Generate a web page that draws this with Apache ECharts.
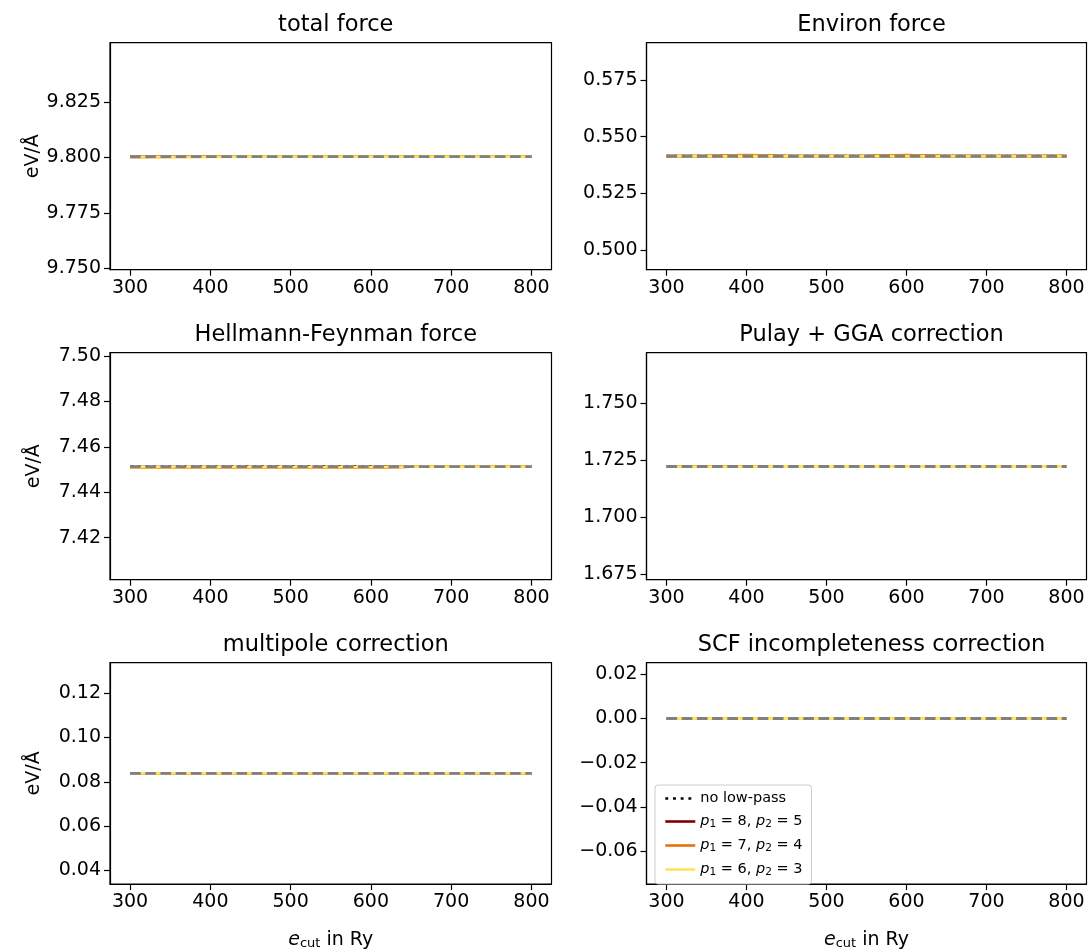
<!DOCTYPE html>
<html>
<head>
<meta charset="utf-8">
<script src="https://cdn.jsdelivr.net/npm/echarts@6/dist/echarts.min.js"></script>
<style>
  html, body { margin: 0; padding: 0; background: #fff; }
  #chart { width: 1091px; height: 951px; }
</style>
</head>
<body>
<div id="chart"></div>
<script>
// cutoff values (Ry)
var ecut = [300, 350, 400, 450, 500, 550, 600, 650, 700, 750, 800];

var seriesNames = ['no low-pass', 'p1 = 8, p2 = 5', 'p1 = 7, p2 = 4', 'p1 = 6, p2 = 3'];
var seriesColors = ['#000000', '#800000', '#e8700c', '#ffe35a'];

var titles = ['total force', 'Environ force', 'Hellmann-Feynman force',
              'Pulay + GGA correction', 'multipole correction', 'SCF incompleteness correction'];

// values (eV/Å), one list per curve
var totalNoLp  = [9.8003, 9.8003, 9.8003, 9.8003, 9.8003, 9.8003, 9.8003, 9.8003, 9.8003, 9.8003, 9.8003];
var totalP85   = [9.8002, 9.8003, 9.8003, 9.8003, 9.8003, 9.8003, 9.8003, 9.8003, 9.8003, 9.8003, 9.8003];
var totalP74   = [9.8002, 9.8002, 9.8003, 9.8003, 9.8003, 9.8003, 9.8003, 9.8003, 9.8003, 9.8003, 9.8003];
var totalP63   = [9.8002, 9.8002, 9.8002, 9.8003, 9.8003, 9.8003, 9.8003, 9.8003, 9.8003, 9.8003, 9.8003];

var environNoLp = [0.5414, 0.5414, 0.5414, 0.5414, 0.5414, 0.5414, 0.5414, 0.5414, 0.5414, 0.5414, 0.5414];
var environP85  = [0.5414, 0.5414, 0.5417, 0.5414, 0.5414, 0.5414, 0.5417, 0.5414, 0.5414, 0.5414, 0.5414];
var environP74  = [0.5414, 0.5415, 0.5418, 0.5415, 0.5414, 0.5415, 0.5418, 0.5414, 0.5414, 0.5414, 0.5414];
var environP63  = [0.5414, 0.5414, 0.5414, 0.5414, 0.5414, 0.5414, 0.5414, 0.5414, 0.5414, 0.5414, 0.5414];

var hfNoLp = [7.4513, 7.4513, 7.4513, 7.4513, 7.4513, 7.4513, 7.4513, 7.4513, 7.4513, 7.4513, 7.4513];
var hfP85  = [7.4511, 7.4511, 7.4511, 7.4511, 7.4511, 7.4511, 7.4511, 7.4513, 7.4513, 7.4513, 7.4513];
var hfP74  = [7.4509, 7.4509, 7.4509, 7.4509, 7.4509, 7.4509, 7.4509, 7.4513, 7.4513, 7.4513, 7.4513];
var hfP63  = [7.4511, 7.4511, 7.4511, 7.4511, 7.4511, 7.4511, 7.4511, 7.4513, 7.4513, 7.4513, 7.4513];

var pulayNoLp = [1.7223, 1.7223, 1.7223, 1.7223, 1.7223, 1.7223, 1.7223, 1.7223, 1.7223, 1.7223, 1.7223];
var pulayP85  = [1.7223, 1.7223, 1.7223, 1.7223, 1.7223, 1.7223, 1.7223, 1.7223, 1.7223, 1.7223, 1.7223];
var pulayP74  = [1.7222, 1.7222, 1.7223, 1.7223, 1.7223, 1.7223, 1.7223, 1.7223, 1.7223, 1.7223, 1.7223];
var pulayP63  = [1.7222, 1.7222, 1.7222, 1.7223, 1.7223, 1.7223, 1.7223, 1.7223, 1.7223, 1.7223, 1.7223];

var multiNoLp = [0.0838, 0.0838, 0.0838, 0.0838, 0.0838, 0.0838, 0.0838, 0.0838, 0.0838, 0.0838, 0.0838];
var multiP85  = [0.0838, 0.0838, 0.0838, 0.0838, 0.0838, 0.0838, 0.0838, 0.0838, 0.0838, 0.0838, 0.0838];
var multiP74  = [0.0838, 0.0838, 0.0838, 0.0838, 0.0838, 0.0838, 0.0838, 0.0838, 0.0838, 0.0838, 0.0838];
var multiP63  = [0.0838, 0.0838, 0.0838, 0.0838, 0.0838, 0.0838, 0.0838, 0.0838, 0.0838, 0.0838, 0.0838];

var scfNoLp = [0, 0, 0, 0, 0, 0, 0, 0, 0, 0, 0];
var scfP85  = [0, 0, 0, 0, 0, 0, 0, 0, 0, 0, 0];
var scfP74  = [0, 0, 0, 0, 0, 0, 0, 0, 0, 0, 0];
var scfP63  = [0, 0, 0, 0, 0, 0, 0, 0, 0, 0, 0];

// y tick labels per panel
var totalTicks   = [9.750, 9.775, 9.800, 9.825];
var environTicks = [0.500, 0.525, 0.550, 0.575];
var hfTicks      = [7.42, 7.44, 7.46, 7.48, 7.50];
var pulayTicks   = [1.675, 1.700, 1.725, 1.750];
var multiTicks   = [0.04, 0.06, 0.08, 0.10, 0.12];
var scfTicks     = [-0.06, -0.04, -0.02, 0.00, 0.02];
var xTicks       = [300, 400, 500, 600, 700, 800];

var panels = [
    {curves: [totalNoLp, totalP85, totalP74, totalP63], ticks: totalTicks, min: 9.7494, max: 9.8516, dec: 3},
    {curves: [environNoLp, environP85, environP74, environP63], ticks: environTicks, min: 0.4914, max: 0.5914, dec: 3},
    {curves: [hfNoLp, hfP85, hfP74, hfP63], ticks: hfTicks, min: 7.4015, max: 7.5015, dec: 2},
    {curves: [pulayNoLp, pulayP85, pulayP74, pulayP63], ticks: pulayTicks, min: 1.6724, max: 1.7724, dec: 3},
    {curves: [multiNoLp, multiP85, multiP74, multiP63], ticks: multiTicks, min: 0.0338, max: 0.1338, dec: 2},
    {curves: [scfNoLp, scfP85, scfP74, scfP63], ticks: scfTicks, min: -0.0748, max: 0.0252, dec: 2}
];

var font = 'DejaVu Sans';
var colLeft = [110, 646.5];
var colWidth = [441.5, 440];
var rowTop = [42.7, 352.7, 662.7];
var rowHeight = 227;

function pair(xs, ys) {
    return xs.map(function (x, i) { return [x, ys[i]]; });
}

var grids = [], xAxes = [], yAxes = [], series = [], titleList = [];

panels.forEach(function (p, k) {
    var col = k % 2, row = Math.floor(k / 2);
    grids.push({
        left: colLeft[col], top: rowTop[row], width: colWidth[col], height: rowHeight,
        show: true, borderColor: '#000', borderWidth: 1.2, backgroundColor: 'transparent'
    });
    titleList.push({
        text: titles[k],
        left: colLeft[col] + colWidth[col] / 2,
        top: rowTop[row] - 34,
        textAlign: 'center',
        textStyle: {fontFamily: font, fontSize: 22.5, fontWeight: 'normal', color: '#000'}
    });
    xAxes.push({
        type: 'value', gridIndex: k, min: 275, max: 825,
        axisLine: {onZero: false, lineStyle: {color: '#000', width: 1.2}},
        axisTick: {length: 6, lineStyle: {color: '#000', width: 1.2}, customValues: xTicks},
        axisLabel: {customValues: xTicks, margin: 9, fontFamily: font, fontSize: 19, color: '#000'},
        splitLine: {show: false},
        name: row === 2 ? '{i|e}{s|cut}{n| in Ry}' : '',
        nameLocation: 'middle', nameGap: 46,
        nameTextStyle: {
            color: '#000', fontFamily: font,
            rich: {
                i: {fontStyle: 'italic', fontSize: 19, fontFamily: font},
                s: {fontSize: 13, fontFamily: font, padding: [7, 0, 0, 0]},
                n: {fontSize: 19, fontFamily: font}
            }
        }
    });
    yAxes.push({
        type: 'value', gridIndex: k, min: p.min, max: p.max,
        axisLine: {onZero: false, lineStyle: {color: '#000', width: 1.2}},
        axisTick: {length: 6, lineStyle: {color: '#000', width: 1.2}, customValues: p.ticks},
        axisLabel: {
            customValues: p.ticks, margin: 9, fontFamily: font, fontSize: 19, color: '#000',
            formatter: (function (d) {
                return function (v) {
                    var s = Math.abs(v).toFixed(d);
                    return v < -1e-9 ? '\u2212' + s : s;
                };
            })(p.dec)
        },
        splitLine: {show: false},
        name: col === 0 ? 'eV/Å' : '',
        nameLocation: 'middle', nameGap: 66, nameRotate: 90,
        nameTextStyle: {fontFamily: font, fontSize: 19, color: '#000'}
    });
    p.curves.forEach(function (ys, j) {
        series.push({
            name: seriesNames[j], type: 'line', xAxisIndex: k, yAxisIndex: k,
            data: pair(ecut, ys), symbol: 'none', silent: true, animation: false,
            lineStyle: j === 0
                ? {color: seriesColors[j], width: 2.9, type: [2.9, 4.8]}
                : {color: seriesColors[j], width: 2.9},
            itemStyle: {color: seriesColors[j]},
            z: 2 + j
        });
    });
    // grey dashed overlay drawn on top of the curves
    series.push({
        name: 'overlay', type: 'line', xAxisIndex: k, yAxisIndex: k,
        data: pair(ecut, p.curves[0]), symbol: 'none', silent: true, animation: false,
        lineStyle: {color: '#808080', width: 2.9, type: [10.6, 4.6]},
        z: 10
    });
});

var chart = echarts.init(document.getElementById('chart'));
chart.setOption({
    backgroundColor: '#fff',
    animation: false,
    title: titleList,
    grid: grids,
    xAxis: xAxes,
    yAxis: yAxes,
    legend: {
        data: seriesNames,
        orient: 'vertical',
        left: 655, top: 785,
        itemWidth: 30, itemHeight: 14, itemGap: 8,
        padding: [6, 9, 6, 9],
        backgroundColor: 'rgba(255,255,255,0.8)',
        borderColor: '#cccccc', borderWidth: 1, borderRadius: 3,
        selectedMode: false,
        itemStyle: {opacity: 0},
        lineStyle: {width: 2.6},
        textStyle: {
            fontFamily: font, fontSize: 14.5, color: '#000',
            rich: {
                i: {fontStyle: 'italic', fontSize: 14.5, fontFamily: font},
                s: {fontSize: 10.5, fontFamily: font, padding: [6, 0, 0, 0]},
                n: {fontSize: 14.5, fontFamily: font}
            }
        },
        formatter: function (name) {
            var m = name.match(/p1 = (\d), p2 = (\d)/);
            if (!m) return name;
            return '{i|p}{s|1}{n| = ' + m[1] + ', }{i|p}{s|2}{n| = ' + m[2] + '}';
        }
    },
    series: series
});
</script>
</body>
</html>
